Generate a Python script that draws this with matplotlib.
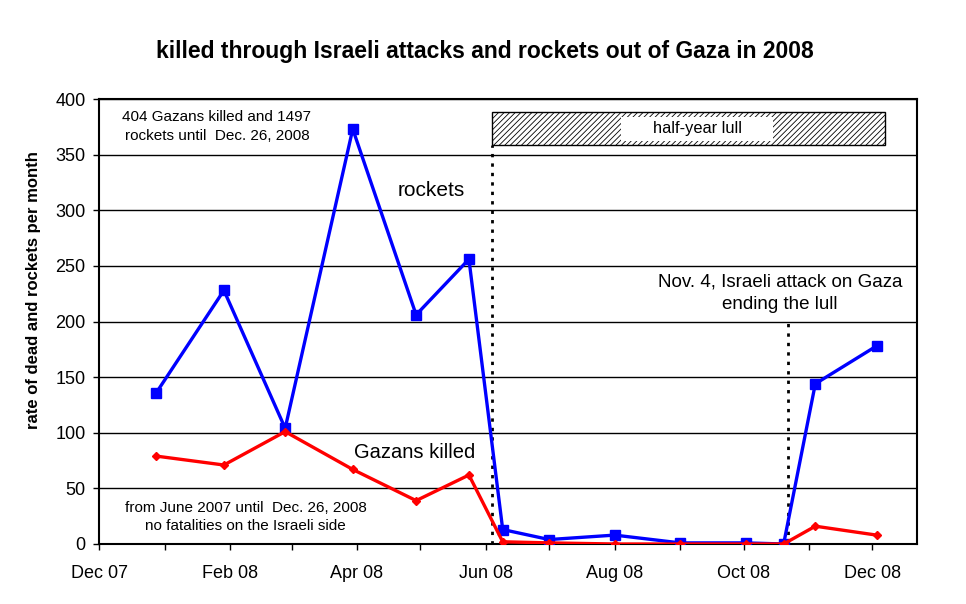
import numpy as np
import matplotlib
matplotlib.use('Agg')
import matplotlib.pyplot as plt
import matplotlib.dates as mdates
from matplotlib.patches import Rectangle

plt.rcParams['font.family'] = ['Liberation Sans', 'DejaVu Sans']
plt.rcParams['hatch.linewidth'] = 0.6

# data (one point per month)
dates = np.array(['2007-12-28', '2008-01-29', '2008-02-27', '2008-03-30',
                  '2008-04-29', '2008-05-24', '2008-06-09', '2008-07-01',
                  '2008-08-01', '2008-09-01', '2008-10-02', '2008-10-20',
                  '2008-11-04', '2008-12-03'], dtype='datetime64[D]')
rockets = [136, 228, 104, 373, 206, 256, 13, 4, 8, 1, 1, 0, 144, 178]
killed = [79, 71, 101, 67, 39, 62, 2, 1, 0, 0, 0, 0, 16, 8]

lull_start = np.datetime64('2008-06-04')
lull_end = np.datetime64('2008-12-07')
attack_date = np.datetime64('2008-10-22')


def dnum(d):
    return mdates.date2num(d)


def px(x, y):
    # pixel position -> figure fraction
    return x / 966, 1 - y / 604


fig = plt.figure(figsize=(9.66, 6.04), dpi=100)
ax = fig.add_axes([99.3 / 966, 60 / 604, (916.7 - 99.3) / 966, 445 / 604])

ax.set_ylim(0, 400)
ax.set_yticks(range(0, 401, 50))
ax.set_xlim(np.datetime64('2007-12-01'), np.datetime64('2008-12-22'))
ax.xaxis.set_major_locator(mdates.MonthLocator(bymonth=[12, 2, 4, 6, 8, 10]))
ax.xaxis.set_minor_locator(mdates.MonthLocator())
ax.xaxis.set_major_formatter(mdates.DateFormatter('%b %y'))
ax.yaxis.grid(True, color='black', linewidth=1)
ax.set_axisbelow(True)

for s in ax.spines.values():
    s.set_linewidth(1.5)
ax.tick_params(axis='both', which='both', direction='out', length=4,
               width=1, labelsize=13)
ax.tick_params(axis='x', pad=11)
ax.tick_params(axis='y', pad=6)

# dotted markers for the lull
ax.plot([lull_start, lull_start], [0, 359], color='black', lw=2,
        linestyle=(0, (1.2, 2.2)), zorder=2)
ax.plot([attack_date, attack_date], [0, 199], color='black', lw=2,
        linestyle=(0, (1.2, 2.2)), zorder=2)

# hatched lull box
ax.add_patch(Rectangle((dnum(lull_start), 359), dnum(lull_end) - dnum(lull_start), 29,
                       facecolor='white', edgecolor='black', hatch='//////',
                       linewidth=1, zorder=3))
ax.add_patch(Rectangle((dnum(np.datetime64('2008-08-04')), 362),
                       dnum(np.datetime64('2008-10-15')) - dnum(np.datetime64('2008-08-04')), 22,
                       facecolor='white', edgecolor='none', zorder=4))
ax.text(dnum(np.datetime64('2008-09-09')), 373.5, 'half-year lull', fontsize=11.8,
        ha='center', va='center', zorder=5)

ax.plot(dates, rockets, color='#0000FF', lw=2.4, marker='s', markersize=7, zorder=6)
ax.plot(dates, killed, color='#FF0000', lw=2.4, marker='D', markersize=4.5, zorder=7)

fig.text(*px(431, 191), 'rockets', fontsize=15, ha='center', va='center')
fig.text(*px(415, 452), 'Gazans killed', fontsize=14.5, ha='center', va='center')
fig.text(*px(780, 293), 'Nov. 4, Israeli attack on Gaza\nending the lull',
         fontsize=13.5, ha='center', va='center', linespacing=1.45)

fig.text(*px(217, 126.5), '404 Gazans killed and 1497\nrockets until  Dec. 26, 2008',
         fontsize=11, ha='center', va='center', linespacing=1.45)
fig.text(*px(245.5, 517), 'from June 2007 until  Dec. 26, 2008\nno fatalities on the Israeli side',
         fontsize=11, ha='center', va='center', linespacing=1.45)

fig.text(*px(485, 58.3),
         'killed through Israeli attacks and rockets out of Gaza in 2008',
         fontsize=16.5, fontweight='bold', ha='center', va='baseline')
fig.text(*px(34, 290), 'rate of dead and rockets per month',
         fontsize=12, fontweight='bold', rotation=90, ha='center', va='center')

fig.savefig('out.png', dpi=100, facecolor='white')
